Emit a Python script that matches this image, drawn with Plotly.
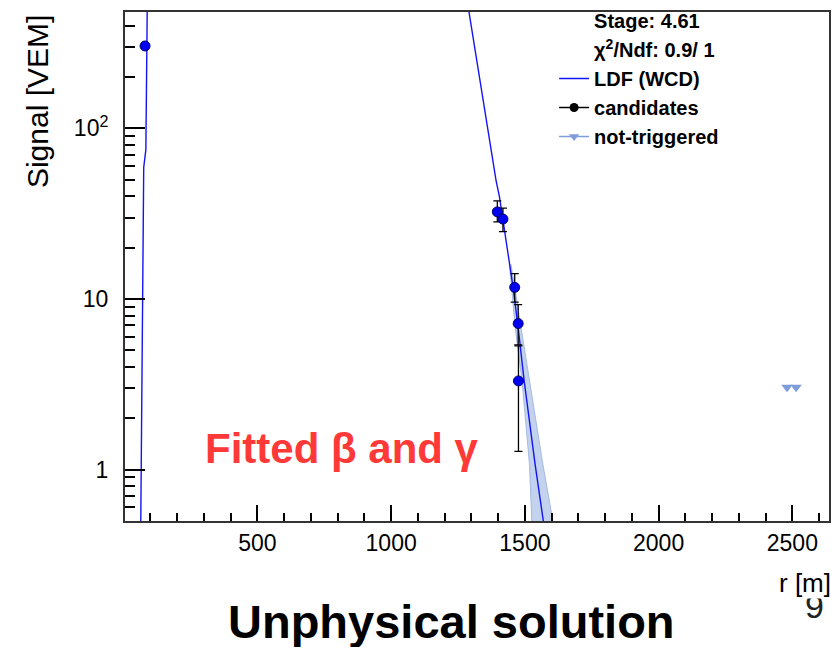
import plotly.graph_objects as go

# ---- data ----
ldf_left_r = [64, 66, 70, 75, 83, 88]
ldf_left_s = [0.5, 1.4, 9.8, 59, 75, 481]
ldf_right_r = [1291, 1392, 1405, 1456, 1476, 1497, 1538, 1569]
ldf_right_s = [481, 49.8, 39.7, 11.7, 6.56, 3.35, 1.08, 0.5]

band_s = [16, 6.56, 3.35, 1.08, 0.45]
band_lo = [1442, 1465, 1489, 1517, 1527]
band_hi = [1448, 1489, 1517, 1567, 1610]

cand_r = [80, 1397, 1418, 1462, 1475, 1476]
cand_s = [304, 32.4, 29.4, 11.7, 7.18, 3.31]
cand_err_up = [0, 5.2, 4.7, 2.4, 2.1, 2.0]
cand_err_dn = [0, 4.1, 4.6, 2.1, 1.8, 2.03]

nt_r = [2480, 2514]
nt_s = [3.04, 3.04]

x_tickvals = [500, 1000, 1500, 2000, 2500]
y_tickvals = [1, 10, 100]
y_ticktext = ["1", "10", "10<sup>2</sup>"]

legend_names = ["Stage: 4.61", "χ<sup>2</sup>/Ndf: 0.9/ 1", "LDF (WCD)", "candidates", "not-triggered"]
x_title = "r [m]"
y_title = "Signal [VEM]"
note_text = "Fitted β and γ"
main_text = "Unphysical solution"
page_num = "9"

BLUE = "#1414f5"
LIGHT = "#7f9ddb"
FONT = "Liberation Sans"

fig = go.Figure()

# uncertainty band
fig.add_trace(go.Scatter(
    x=band_lo + band_hi[::-1], y=band_s + band_s[::-1],
    fill="toself", fillcolor="rgba(175,196,232,0.75)",
    line=dict(color="rgba(150,175,220,0.8)", width=1),
    mode="lines", showlegend=False, hoverinfo="skip"))

# LDF curve
fig.add_trace(go.Scatter(x=ldf_left_r, y=ldf_left_s, mode="lines",
                         line=dict(color=BLUE, width=1.4), showlegend=False))
fig.add_trace(go.Scatter(x=ldf_right_r, y=ldf_right_s, mode="lines",
                         line=dict(color=BLUE, width=1.4), showlegend=False))

# candidates
fig.add_trace(go.Scatter(
    x=cand_r, y=cand_s, mode="markers",
    marker=dict(symbol="circle", size=10, color="#0000f0", line=dict(color="#000070", width=1)),
    error_y=dict(type="data", array=cand_err_up, arrayminus=cand_err_dn,
                 color="black", thickness=1.3, width=4),
    showlegend=False))

# not-triggered
fig.add_trace(go.Scatter(
    x=nt_r, y=nt_s, mode="markers",
    marker=dict(symbol="triangle-down", size=10, color=LIGHT),
    showlegend=False))

# legend entries
fig.add_trace(go.Scatter(x=[None], y=[None], mode="lines", name=legend_names[0],
                         line=dict(color="rgba(0,0,0,0)")))
fig.add_trace(go.Scatter(x=[None], y=[None], mode="lines", name=legend_names[1],
                         line=dict(color="rgba(0,0,0,0)")))
fig.add_trace(go.Scatter(x=[None], y=[None], mode="lines", name=legend_names[2],
                         line=dict(color=BLUE, width=1.5)))
fig.add_trace(go.Scatter(x=[None], y=[None], mode="lines+markers", name=legend_names[3],
                         line=dict(color="black", width=1.5),
                         marker=dict(symbol="circle", size=9, color="black")))
fig.add_trace(go.Scatter(x=[None], y=[None], mode="lines+markers", name=legend_names[4],
                         line=dict(color=LIGHT, width=1.5),
                         marker=dict(symbol="triangle-down", size=9, color=LIGHT)))

fig.update_layout(
    width=837, height=649,
    margin=dict(l=125, r=8, t=12, b=128, autoexpand=False),
    paper_bgcolor="white", plot_bgcolor="white",
    font=dict(family=FONT, color="black"),
    showlegend=True,
    legend=dict(x=0.6095, y=1.0216, xanchor="left", yanchor="top",
                bgcolor="rgba(0,0,0,0)", borderwidth=0, tracegroupgap=0,
                font=dict(family=FONT, size=20, color="black", weight="bold")),
    xaxis=dict(range=[5, 2637], showgrid=False, zeroline=False,
               showline=True, linecolor="#333", linewidth=2, mirror=True,
               tickvals=x_tickvals, ticks="inside", ticklen=16, tickwidth=1.5,
               tickcolor="black", ticklabelstandoff=0,
               tickfont=dict(family=FONT, size=23, color="black"),
               minor=dict(ticks="inside", ticklen=8, dtick=100, tick0=0,
                          tickcolor="black", tickwidth=1.5, showgrid=False)),
    yaxis=dict(type="log", range=[-0.301, 2.682], showgrid=False, zeroline=False,
               showline=True, linecolor="#333", linewidth=2, mirror=True,
               tickvals=y_tickvals, ticktext=y_ticktext, ticks="inside", ticklen=20,
               tickwidth=1.5, tickcolor="black", ticklabelstandoff=10,
               tickfont=dict(family=FONT, size=23, color="black"),
               minor=dict(ticks="inside", ticklen=10, dtick="D1",
                          tickcolor="black", tickwidth=1.5, showgrid=False)),
    annotations=[
        dict(text=note_text, xref="paper", yref="paper", x=0.1108, y=0.1415,
             xanchor="left", yanchor="middle", showarrow=False,
             font=dict(family=FONT, size=42, color="#ff3838", weight="bold")),
        dict(text=main_text, xref="paper", yref="paper", x=0.4638, y=-0.1965,
             xanchor="center", yanchor="middle", showarrow=False, height=52,
             font=dict(family=FONT, size=47, color="black", weight="bold")),
        dict(text=page_num, xref="paper", yref="paper", x=0.980, y=-0.167,
             xanchor="center", yanchor="middle", showarrow=False,
             font=dict(family=FONT, size=34, color="#222")),
        dict(text=x_title, xref="paper", yref="paper", x=1.005, y=-0.1218,
             xanchor="right", yanchor="middle", showarrow=False, bgcolor="white",
             height=28, font=dict(family=FONT, size=26, color="black")),
        dict(text=y_title, xref="paper", yref="paper", x=-0.1243, y=0.824,
             xanchor="center", yanchor="middle", showarrow=False, textangle=-90,
             font=dict(family=FONT, size=30, color="black")),
    ],
)

fig.write_html("out.html")
